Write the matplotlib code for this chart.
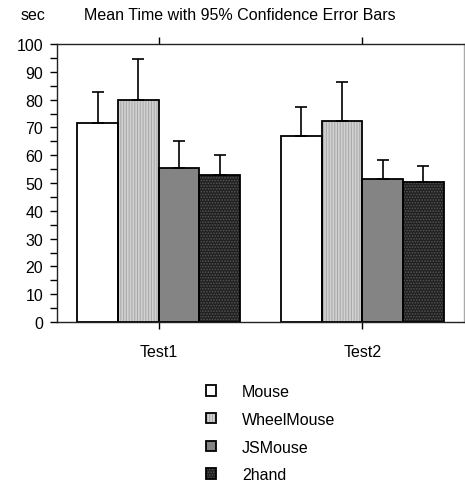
import matplotlib
matplotlib.use("Agg")
import matplotlib.pyplot as plt
from matplotlib.legend_handler import HandlerTuple
import numpy as np

plt.rcParams['font.family'] = ['Liberation Sans', 'DejaVu Sans']
plt.rcParams['hatch.linewidth'] = 0.8

categories = ["Test1", "Test2"]
series = ["Mouse", "WheelMouse", "JSMouse", "2hand"]
means = {
    "Mouse": [71.5, 67.0],
    "WheelMouse": [79.7, 72.2],
    "JSMouse": [55.5, 51.4],
    "2hand": [52.9, 50.2],
}
errors = {
    "Mouse": [11.1, 10.3],
    "WheelMouse": [14.9, 14.2],
    "JSMouse": [9.7, 6.9],
    "2hand": [7.3, 6.0],
}
colors = {"Mouse": "#ffffff", "WheelMouse": "#d2d2d2", "JSMouse": "#848484", "2hand": "#202020"}
hatches = {"Mouse": None, "WheelMouse": "||||||", "JSMouse": None, "2hand": "......"}
hatch_colors = {"Mouse": "#ffffff", "WheelMouse": "#aaaaaa", "JSMouse": "#848484", "2hand": "#555555"}
yticks = list(range(0, 101, 10))

FS = 11.5
fig = plt.figure(figsize=(4.65, 4.85), dpi=100)
ax = fig.add_axes([57/465, 162/485, 407/465, 278/485])

x = np.arange(len(categories))
w = 0.2
handles = []
for i, s in enumerate(series):
    pos = x + (i - 1.5) * w
    b1 = ax.bar(pos, means[s], w, color=colors[s], edgecolor=hatch_colors[s],
                hatch=hatches[s], linewidth=0, zorder=2)
    b2 = ax.bar(pos, means[s], w, fill=False, edgecolor='black', linewidth=1.3, zorder=2.5)
    ax.errorbar(pos, means[s], yerr=[np.zeros(len(categories)), errors[s]], fmt='none',
                ecolor='black', elinewidth=1.2, capsize=4, capthick=1.2, zorder=3)
    handles.append((b1[0], b2[0]))

ax.set_xlim(-0.5, 1.5)
ax.set_ylim(0, 100)
ax.set_yticks(yticks)
ax.set_yticks(range(5, 100, 10), minor=True)
ax.tick_params(axis='y', which='both', direction='out', length=5, width=1, labelsize=FS, pad=5)
ax.set_xticks(x)
ax.set_xticklabels(categories, fontsize=FS)
ax.tick_params(axis='x', which='both', direction='out', length=5, width=1, top=True, pad=10.5)
for sp in ['left', 'bottom', 'top']:
    ax.spines[sp].set_linewidth(1.0)
    ax.spines[sp].set_color('#222222')
ax.spines['right'].set_color('#aaaaaa')
ax.spines['right'].set_linewidth(1.0)

fig.text(21/465, 1 - 15/485, "sec", fontsize=FS, va='center', ha='left')
fig.text(240/465, 1 - 15/485, "Mean Time with 95% Confidence Error Bars", fontsize=FS,
         va='center', ha='center')

leg = fig.legend(handles, series, loc='upper left', bbox_to_anchor=(206/465, 1 - 385/485),
                 frameon=False, fontsize=FS, handlelength=0.65, handleheight=0.65,
                 handletextpad=1.6, labelspacing=0.8, borderpad=0, borderaxespad=0,
                 handler_map={tuple: HandlerTuple(ndivide=1)})

fig.savefig("out.png", dpi=100)
